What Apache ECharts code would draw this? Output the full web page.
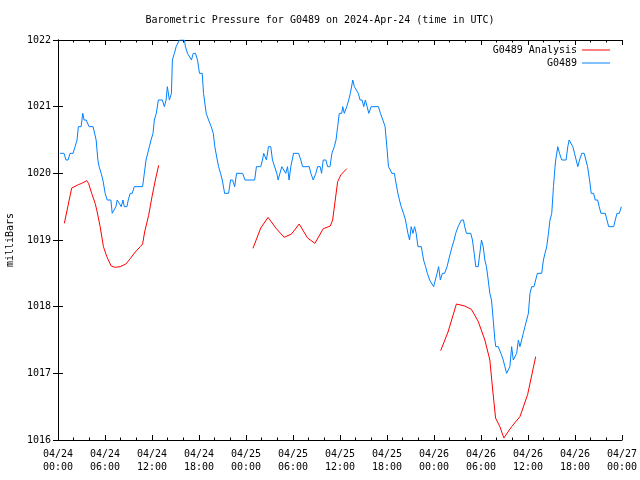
<!DOCTYPE html>
<html><head><meta charset="utf-8">
<script src="https://cdn.jsdelivr.net/npm/echarts@6/dist/echarts.min.js"></script>
<style>html,body{margin:0;padding:0;background:#fff}#c{width:640px;height:480px}</style>
</head><body><div id="c"></div>
<script>
// hours since 2024-04-24 00:00 UTC
const xTickHours = [0, 6, 12, 18, 24, 30, 36, 42, 48, 54, 60, 66, 72];
const yTicks = [1016, 1017, 1018, 1019, 1020, 1021, 1022];

const obsHours = [0.26,0.77,1.02,1.28,1.54,1.92,2.18,2.43,2.6,2.95,3.16,3.33,3.59,3.8,3.97,4.48,4.61,4.87,5.09,5.25,5.51,5.73,6.02,6.28,6.75,6.92,7.17,7.39,7.56,7.81,8.07,8.29,8.46,8.8,8.97,9.22,9.48,9.74,10.8,11.02,11.24,11.66,11.88,12.13,12.3,12.55,12.81,13.32,13.58,13.8,13.96,14.22,14.48,14.6,14.86,15.08,15.33,15.5,16.14,16.27,16.53,16.78,17.04,17.26,17.55,17.81,18.06,18.41,18.58,18.92,19.22,19.56,19.82,20.02,20.33,20.5,20.75,20.97,21.27,21.78,22.03,22.29,22.55,22.8,23.57,23.87,25.11,25.33,25.88,26.1,26.26,26.61,26.87,27.16,27.38,27.58,27.93,28.1,28.31,28.57,28.82,29.08,29.3,29.5,29.72,30.07,30.71,31.0,31.22,32.07,32.28,32.58,32.92,33.14,33.47,33.65,33.86,34.2,34.42,34.72,34.97,35.27,35.49,35.7,35.91,36.22,36.35,36.55,36.86,37.11,37.32,37.63,37.83,38.05,38.34,38.56,38.82,39.03,39.24,39.46,39.68,39.97,40.91,41.16,41.47,41.76,41.98,42.19,42.41,42.62,42.95,43.08,43.39,43.59,43.81,44.11,44.36,44.67,44.88,45.09,45.31,45.52,45.73,45.95,46.38,46.67,46.93,47.15,47.44,47.66,47.95,48.17,48.39,48.59,48.81,49.07,49.36,49.67,49.87,50.09,50.31,50.57,50.77,51.08,51.28,51.5,51.76,51.92,52.14,52.69,52.91,53.13,53.33,53.64,53.85,54.06,54.28,54.49,54.7,54.92,55.13,55.34,55.56,55.77,55.89,56.2,56.54,56.84,57.05,57.27,57.48,57.69,57.91,58.12,58.33,58.55,58.77,58.97,59.19,59.4,59.61,59.83,60.05,60.25,60.47,60.76,60.98,61.2,61.75,61.97,62.17,62.39,62.61,62.81,63.03,63.25,63.45,63.54,63.8,64.02,64.31,64.86,65.08,65.25,65.47,65.72,65.94,66.14,66.36,66.58,66.87,67.17,67.39,67.6,67.86,68.07,68.37,68.58,68.89,69.09,69.31,69.86,70.08,70.3,70.94,71.14,71.36,71.66,71.92];
const obsValues = [1020.3,1020.3,1020.2,1020.2,1020.3,1020.3,1020.4,1020.5,1020.7,1020.7,1020.9,1020.8,1020.8,1020.8,1020.7,1020.7,1020.7,1020.5,1020.2,1020.1,1020.0,1019.9,1019.7,1019.6,1019.6,1019.4,1019.4,1019.5,1019.6,1019.6,1019.5,1019.6,1019.5,1019.5,1019.6,1019.7,1019.7,1019.8,1019.8,1020.0,1020.2,1020.4,1020.5,1020.6,1020.8,1020.9,1021.1,1021.1,1021.0,1021.1,1021.3,1021.1,1021.2,1021.7,1021.8,1021.9,1021.9,1022.0,1022.0,1021.9,1021.8,1021.8,1021.7,1021.8,1021.8,1021.7,1021.5,1021.5,1021.2,1020.9,1020.8,1020.7,1020.6,1020.4,1020.2,1020.1,1020.0,1019.9,1019.7,1019.7,1019.9,1019.9,1019.8,1020.0,1020.0,1019.9,1019.9,1020.1,1020.1,1020.2,1020.3,1020.2,1020.4,1020.4,1020.2,1020.2,1020.0,1019.9,1019.9,1020.1,1020.1,1020.0,1020.1,1019.9,1020.1,1020.3,1020.3,1020.2,1020.1,1020.1,1020.0,1019.9,1020.0,1020.1,1020.1,1020.0,1020.2,1020.2,1020.1,1020.1,1020.3,1020.4,1020.5,1020.7,1020.9,1020.9,1021.0,1020.9,1021.0,1021.1,1021.2,1021.4,1021.3,1021.3,1021.2,1021.1,1021.1,1021.0,1021.1,1021.0,1020.9,1021.0,1021.0,1020.9,1020.8,1020.7,1020.4,1020.1,1020.1,1020.0,1020.0,1019.9,1019.7,1019.6,1019.5,1019.4,1019.3,1019.1,1019.0,1019.2,1019.1,1019.2,1019.1,1018.9,1018.9,1018.7,1018.6,1018.5,1018.4,1018.4,1018.3,1018.4,1018.5,1018.6,1018.4,1018.5,1018.5,1018.6,1018.7,1018.8,1018.9,1019.0,1019.1,1019.2,1019.2,1019.3,1019.3,1019.2,1019.1,1019.1,1019.0,1018.8,1018.6,1018.6,1018.8,1019.0,1018.9,1018.7,1018.6,1018.4,1018.2,1018.1,1017.8,1017.5,1017.4,1017.4,1017.3,1017.2,1017.1,1017.0,1017.0,1017.1,1017.4,1017.2,1017.2,1017.3,1017.5,1017.4,1017.5,1017.6,1017.7,1017.8,1017.9,1018.2,1018.3,1018.3,1018.4,1018.5,1018.5,1018.7,1018.8,1018.9,1019.1,1019.3,1019.4,1019.8,1020.1,1020.2,1020.4,1020.3,1020.2,1020.2,1020.4,1020.5,1020.5,1020.4,1020.3,1020.3,1020.1,1020.2,1020.3,1020.3,1020.2,1020.1,1019.9,1019.7,1019.7,1019.6,1019.6,1019.5,1019.4,1019.4,1019.3,1019.2,1019.2,1019.3,1019.4,1019.4,1019.5];

// analysis, three separate runs
const anaHours1 = [0.81,1.75,1.96,2.6,3.03,3.67,3.9,4.3,4.74,4.95,5.38,5.8,6.23,6.79,7.3,7.94,8.67,9.22,9.86,10.5,10.8,11.06,11.57,12.0,12.43,12.85];
const anaValues1 = [1019.25,1019.78,1019.8,1019.83,1019.85,1019.89,1019.85,1019.7,1019.55,1019.45,1019.2,1018.9,1018.75,1018.61,1018.59,1018.6,1018.64,1018.72,1018.82,1018.9,1018.94,1019.12,1019.37,1019.65,1019.9,1020.12];
const anaHours2 = [24.89,25.88,26.82,27.8,28.87,29.81,30.79,31.86,32.8,33.86,34.76,35.06,35.7,36.13,36.86];
const anaValues2 = [1018.875,1019.18,1019.34,1019.18,1019.04,1019.09,1019.24,1019.03,1018.95,1019.17,1019.21,1019.3,1019.875,1019.98,1020.07];
const anaHours3 = [48.85,49.79,50.86,51.92,52.78,53.64,54.49,55.13,55.47,55.86,56.41,56.92,57.91,58.97,59.95,60.98];
const anaValues3 = [1017.34,1017.62,1018.04,1018.01,1017.96,1017.78,1017.5,1017.2,1016.78,1016.33,1016.2,1016.03,1016.2,1016.35,1016.68,1017.25];

const FONT = 'DejaVu Sans Mono';
const obsData = obsHours.map((h, i) => [h, obsValues[i]]);
const anaData = [];
[[anaHours1, anaValues1], [anaHours2, anaValues2], [anaHours3, anaValues3]].forEach((seg, k) => {
  if (k > 0) anaData.push([seg[0][0] - 0.5, '-']);
  seg[0].forEach((h, i) => anaData.push([h, seg[1][i]]));
});

function fmtX(v) {
  if (xTickHours.indexOf(v) < 0) return '';
  const day = 24 + Math.floor(v / 24);
  const hr = v % 24;
  return '04/' + day + '\n' + (hr < 10 ? '0' : '') + hr + ':00';
}

const tickStyle = { show: true, inside: true, length: 5, lineStyle: { color: '#000', width: 1 } };
const minor = { show: true, splitNumber: 3, length: 2.5, lineStyle: { color: '#000', width: 1 } };
const axLine = { show: true, lineStyle: { color: '#000', width: 1 } };

const chart = echarts.init(document.getElementById('c'), null, { renderer: 'canvas' });
chart.setOption({
  animation: false,
  backgroundColor: '#fff',
  title: {
    text: 'Barometric Pressure for G0489 on 2024-Apr-24 (time in UTC)',
    left: 'center', top: 10,
    textStyle: { fontFamily: FONT, fontSize: 10, fontWeight: 'normal', color: '#000' }
  },
  legend: {
    orient: 'vertical', right: 25, top: 40, align: 'right',
    icon: 'rect', itemWidth: 28, itemHeight: 1, itemGap: 3,
    textStyle: { fontFamily: FONT, fontSize: 10, color: '#000' },
    data: ['G0489 Analysis', 'G0489']
  },
  grid: { left: 58, right: 18, top: 40, bottom: 40, outerBoundsMode: 'none', containLabel: false },
  xAxis: [{
    type: 'value', min: 0, max: 72, interval: 6, position: 'bottom',
    axisLine: axLine, axisTick: tickStyle, minorTick: minor,
    splitLine: { show: false }, minorSplitLine: { show: false },
    axisLabel: { fontFamily: FONT, fontSize: 10, color: '#000', margin: 8, lineHeight: 13, formatter: fmtX }
  }, {
    type: 'value', min: 0, max: 72, interval: 6, position: 'top',
    axisLine: axLine, axisTick: tickStyle, minorTick: minor,
    splitLine: { show: false }, axisLabel: { show: false }
  }],
  yAxis: [{
    type: 'value', min: 1016, max: 1022, interval: 1, position: 'left',
    name: 'milliBars', nameLocation: 'middle', nameGap: 43, nameRotate: 90,
    nameTextStyle: { fontFamily: FONT, fontSize: 10, color: '#000' },
    axisLine: axLine, axisTick: tickStyle, splitLine: { show: false },
    axisLabel: { fontFamily: FONT, fontSize: 10, color: '#000', margin: 7,
      formatter: v => yTicks.indexOf(v) >= 0 ? String(v) : '' }
  }, {
    type: 'value', min: 1016, max: 1022, interval: 1, position: 'right',
    axisLine: axLine, axisTick: tickStyle, splitLine: { show: false }, axisLabel: { show: false }
  }],
  series: [{
    name: 'G0489 Analysis', type: 'line', data: anaData, showSymbol: false, symbol: 'none',
    connectNulls: false, color: '#ff0000', lineStyle: { width: 1, color: '#ff0000' }, z: 3
  }, {
    name: 'G0489', type: 'line', data: obsData, showSymbol: false, symbol: 'none',
    color: '#0080ff', lineStyle: { width: 1, color: '#0080ff' }, z: 2
  }]
});
</script>
</body></html>
